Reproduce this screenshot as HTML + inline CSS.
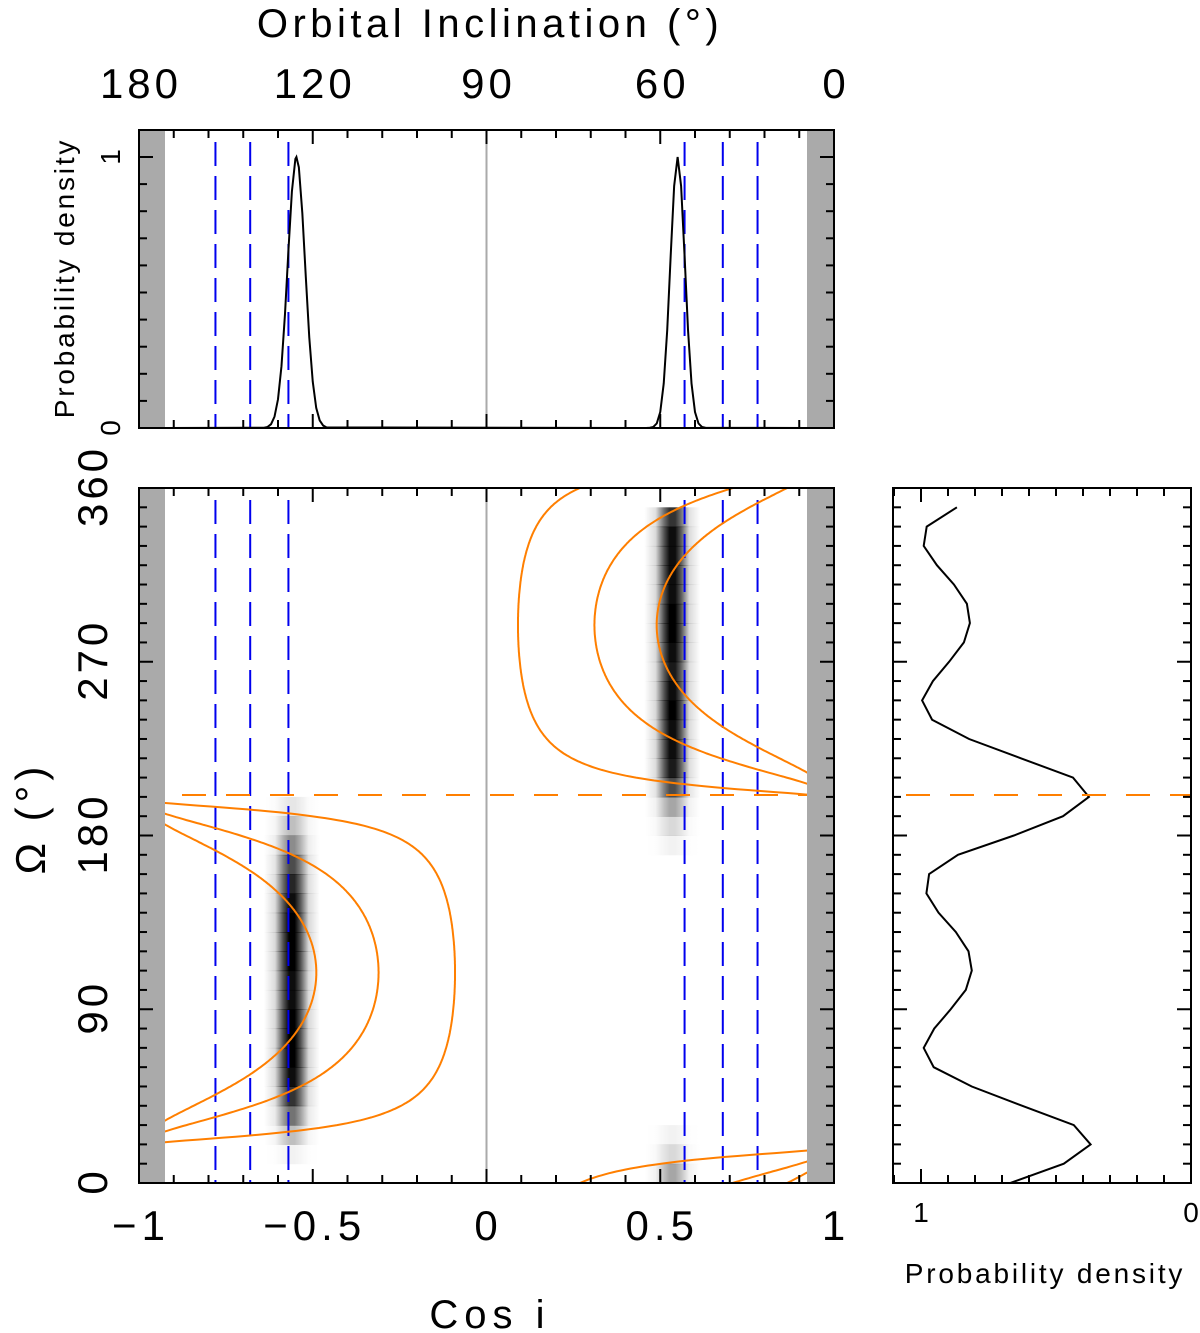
<!DOCTYPE html>
<html><head><meta charset="utf-8">
<style>
html,body{margin:0;padding:0;background:#fff;}
svg{display:block;font-family:"Liberation Sans",sans-serif;}
</style></head>
<body>
<svg id="chart" width="1200" height="1333" viewBox="0 0 1200 1333" xmlns="http://www.w3.org/2000/svg">
<g id="layer"></g>
</svg>
<script>
// ---- data ----
const xTickLabels = ["-1","-0.5","0","0.5","1"];
const xTickValues = [-1,-0.5,0,0.5,1];
const incLabels = ["180","120","90","60","0"];
const incValues = [180,120,90,60,0];
const omegaTickLabels = ["0","90","180","270","360"];
const omegaTickValues = [0,90,180,270,360];
const blueLines = [-0.78,-0.68,-0.57,0.57,0.68,0.78];
const omegaMarker = 201;
// top panel PDF samples
const pdfCos = [-0.92,-0.64,-0.63,-0.62,-0.61,-0.60,-0.59,-0.58,-0.57,-0.56,-0.55,-0.547,-0.54,-0.53,-0.52,-0.51,-0.50,-0.49,-0.48,-0.47,-0.46,
  0.46,0.47,0.48,0.49,0.50,0.51,0.52,0.53,0.54,0.55,0.56,0.57,0.58,0.59,0.60,0.61,0.62,0.63,0.92];
const pdfDens = [0,0.001,0.004,0.014,0.042,0.106,0.228,0.418,0.655,0.873,0.993,1,0.962,0.793,0.558,0.334,0.171,0.074,0.028,0.009,0.002,
  0,0.001,0.004,0.017,0.059,0.164,0.36,0.635,0.893,1,0.893,0.635,0.36,0.164,0.059,0.017,0.004,0.001,0];
// right panel Omega PDF
const omegaSamples = [0,10,20,30,40,50,60,70,80,90,100,110,120,130,140,150,160,170,180,190,200,210,220,230,240,250,260,270,280,290,300,310,320,330,340,350];
const omegaDens = [0.669,0.471,0.372,0.434,0.625,0.812,0.953,0.99,0.951,0.89,0.834,0.812,0.824,0.871,0.935,0.98,0.97,0.863,0.656,0.474,0.378,0.437,0.63,0.822,0.959,0.996,0.956,0.896,0.841,0.819,0.83,0.878,0.941,0.99,0.979,0.867];
// heatmap columns (darkness per 10 deg bin)
const heatCenters = [-0.56,0.535];
const heatLeft = [0,0.05,0.25,0.55,0.8,0.95,1,1,1,0.95,0.95,1,1,1,0.95,0.85,0.7,0.45,0.25,0.1,0,0,0,0,0,0,0,0,0,0,0,0,0,0,0,0];
const heatRight = [0.35,0.15,0.05,0,0,0,0,0,0,0,0,0,0,0,0,0,0,0.05,0.15,0.35,0.7,0.9,0.95,0.95,1,0.95,0.9,0.95,1,1,0.95,0.95,0.95,0.95,0.8,0];
// orange constraint curves
const curveK = [1.78,3.06,11];
const curveOmega0 = [109,289];
const curveSign = [-1,1];

// ---- geometry ----
const NS="http://www.w3.org/2000/svg";
const L=document.getElementById('layer');
const X0=139,X1=834, MT=488, MB=1183, TT=130, TB=428, T1=157, RX0=893, RX1=1191;
const sx=c=>X0+(c+1)/2*(X1-X0);
const sy=o=>MB-o/360*(MB-MT);
const ty=d=>TB-d*(TB-T1);
const rx=d=>RX1-d*(RX1-921);
function el(tag,attrs,parent){const e=document.createElementNS(NS,tag);for(const k in attrs)e.setAttribute(k,attrs[k]);(parent||L).appendChild(e);return e;}
function txt(s,x,y,size,attrs,ls){const e=el('text',Object.assign({x:x,y:y,'font-size':size,'text-anchor':'middle',fill:'#000','letter-spacing':ls||0},attrs||{}));e.textContent=s;return e;}

// clips
const defs=el('defs',{});
const cp=el('clipPath',{id:'mainclip'},defs); el('rect',{x:X0,y:MT,width:X1-X0,height:MB-MT},cp);
const grad=el('linearGradient',{id:'hg',x1:'0',x2:'1',y1:'0',y2:'0'},defs);
[[0,0],[0.2,0.15],[0.35,0.7],[0.45,1],[0.55,1],[0.65,0.7],[0.8,0.15],[1,0]].forEach(s=>el('stop',{offset:s[0],'stop-color':'#000','stop-opacity':s[1]},grad));

// ===== TOP PANEL =====
const topPanel=el('g',{});


el('rect',{x:X0,y:TT,width:26,height:TB-TT,fill:'#aaa'},topPanel);
el('rect',{x:X1-27,y:TT,width:27,height:TB-TT,fill:'#aaa'},topPanel);
el('line',{x1:sx(0),x2:sx(0),y1:TT,y2:TB,stroke:'#aaa','stroke-width':2},topPanel);
blueLines.forEach(c=>{const l=el('line',{x1:sx(c),x2:sx(c),y1:TT+12,y2:TB,stroke:'#0000ee','stroke-width':2,'stroke-dasharray':'24,10'},topPanel);
});
const pdfPts=pdfCos.map((c,i)=>sx(c)+','+ty(pdfDens[i])).join(' ');
const pl=el('polyline',{points:pdfPts,fill:'none',stroke:'#000','stroke-width':2},topPanel);

for(let i=-10;i<=10;i++){const c=i/10,x=sx(c),len=(i%5===0)?14:8;
 el('line',{x1:x,x2:x,y1:TT,y2:TT+len,stroke:'#000','stroke-width':2},topPanel);
 el('line',{x1:x,x2:x,y1:TB,y2:TB-len,stroke:'#000','stroke-width':2},topPanel);}
for(let i=0;i<=10;i++){const y=ty(i/10),len=(i%10===0)?14:8;
 el('line',{x1:X0,x2:X0+len,y1:y,y2:y,stroke:'#000','stroke-width':2},topPanel);
 el('line',{x1:X1,x2:X1-len,y1:y,y2:y,stroke:'#000','stroke-width':2},topPanel);}
el('rect',{x:X0,y:TT,width:X1-X0,height:TB-TT,fill:'none',stroke:'#000','stroke-width':2},topPanel);
txt('Orbital Inclination (°)',490,37,40,{},4.5);
incValues.forEach((v,i)=>{const t=txt(incLabels[i],sx(Math.cos(v*Math.PI/180))+2,98,42,{},4);});
[['0',TB],['1',T1]].forEach(a=>{const t=txt(a[0],0,0,28,{transform:'translate(120,'+a[1]+') rotate(-90)'});});
txt('Probability density',0,0,28,{transform:'translate(74,278) rotate(-90)'},2.8);

// ===== MAIN PANEL =====
const mainPanel=el('g',{});


const hm=el('g',{},mainPanel);

[heatLeft,heatRight].forEach((arr,ci)=>{arr.forEach((v,b)=>{if(v<=0)return;
 const r=el('rect',{x:sx(heatCenters[ci])-28,y:sy((b+1)*10),width:56,height:sy(b*10)-sy((b+1)*10)+0.5,fill:'url(#hg)',opacity:v},hm);
 });});
el('line',{x1:sx(0),x2:sx(0),y1:MT,y2:MB,stroke:'#aaa','stroke-width':2},mainPanel);
blueLines.forEach(c=>{const l=el('line',{x1:sx(c),x2:sx(c),y1:MT+12,y2:MB,stroke:'#0000ee','stroke-width':2,'stroke-dasharray':'24,10'},mainPanel);
});
const cg=el('g',{'clip-path':'url(#mainclip)'},mainPanel);
curveOmega0.forEach((o0,gi)=>{curveK.forEach(k=>{
 let segs=[],cur=[];
 for(let o=0;o<=360;o+=0.5){let d=((o-o0)%360+540)%360-180;
  if(Math.abs(d)<90){const cc=Math.cos(d*Math.PI/180);const v=curveSign[gi]/Math.sqrt(1+(k*cc)*(k*cc));cur.push(sx(v).toFixed(1)+','+sy(o).toFixed(1));}
  else if(cur.length){segs.push(cur);cur=[];}}
 if(cur.length)segs.push(cur);
 segs.forEach(s=>{const p=el('polyline',{points:s.join(' '),fill:'none',stroke:'#ff7f00','stroke-width':2},cg);});
});});
el('line',{x1:182,x2:X1,y1:sy(omegaMarker),y2:sy(omegaMarker),stroke:'#ff7f00','stroke-width':2,'stroke-dasharray':'24,20'},mainPanel);
el('rect',{x:X0,y:MT,width:26,height:MB-MT,fill:'#aaa'},mainPanel);
el('rect',{x:X1-27,y:MT,width:27,height:MB-MT,fill:'#aaa'},mainPanel);
for(let i=-10;i<=10;i++){const x=sx(i/10),len=(i%5===0)?14:8;
 el('line',{x1:x,x2:x,y1:MT,y2:MT+len,stroke:'#000','stroke-width':2},mainPanel);
 el('line',{x1:x,x2:x,y1:MB,y2:MB-len,stroke:'#000','stroke-width':2},mainPanel);}
for(let o=0;o<=360;o+=10){const y=sy(o),len=(o%90===0)?14:8;
 el('line',{x1:X0,x2:X0+len,y1:y,y2:y,stroke:'#000','stroke-width':2},mainPanel);
 el('line',{x1:X1,x2:X1-len,y1:y,y2:y,stroke:'#000','stroke-width':2},mainPanel);}
el('rect',{x:X0,y:MT,width:X1-X0,height:MB-MT,fill:'none',stroke:'#000','stroke-width':2},mainPanel);
xTickValues.forEach((v,i)=>{const t=txt(xTickLabels[i].replace('-','−'),sx(v)+2,1240,42,{},5);});
omegaTickValues.forEach((v,i)=>{const t=txt(omegaTickLabels[i],0,0,42,{transform:'translate(107,'+(sy(v)-2)+') rotate(-90)'},4);});
txt('Cos i',490,1328,40,{},6);
txt('Ω (°)',0,0,42,{transform:'translate(45,818) rotate(-90)'},5);

// ===== RIGHT PANEL =====
const rightPanel=el('g',{});


const rpts=omegaSamples.map((o,i)=>rx(omegaDens[i]).toFixed(1)+','+sy(o).toFixed(1)).join(' ');
const rl=el('polyline',{points:rpts,fill:'none',stroke:'#000','stroke-width':2},rightPanel);

el('line',{x1:906,x2:RX1,y1:sy(omegaMarker),y2:sy(omegaMarker),stroke:'#ff7f00','stroke-width':2,'stroke-dasharray':'24,20'},rightPanel);
for(let i=0;i<=11;i++){const x=rx(i/10);if(x<RX0)continue;
 el('line',{x1:x,x2:x,y1:MT,y2:MT+(i%10===0?14:8),stroke:'#000','stroke-width':2},rightPanel);
 el('line',{x1:x,x2:x,y1:MB,y2:MB-(i%10===0?14:8),stroke:'#000','stroke-width':2},rightPanel);}
for(let o=0;o<=360;o+=10){const y=sy(o),len=(o%90===0)?14:8;
 el('line',{x1:RX0,x2:RX0+len,y1:y,y2:y,stroke:'#000','stroke-width':2},rightPanel);
 el('line',{x1:RX1,x2:RX1-len,y1:y,y2:y,stroke:'#000','stroke-width':2},rightPanel);}
el('rect',{x:RX0,y:MT,width:RX1-RX0,height:MB-MT,fill:'none',stroke:'#000','stroke-width':2},rightPanel);
txt('1',rx(1),1222,28);
txt('0',rx(0),1222,28);
txt('Probability density',1045,1283,28,{},2.8);
</script>
</body></html>
